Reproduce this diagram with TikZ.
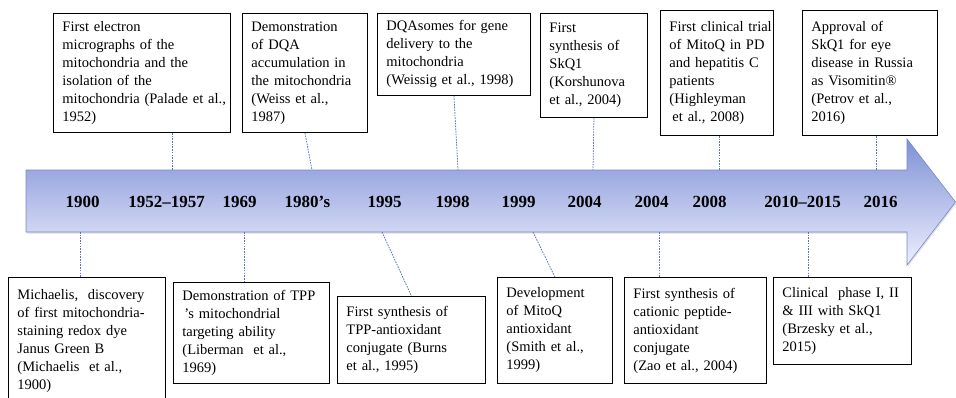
\documentclass[tikz,border=0pt]{standalone}
\usepackage{fontspec}
\setmainfont{Liberation Serif}
\usetikzlibrary{shadows}
\definecolor{arrtop}{RGB}{127,145,214}
\definecolor{arrbot}{RGB}{237,239,253}
\definecolor{arredge}{RGB}{118,136,204}
\definecolor{conn}{RGB}{88,118,190}
\tikzset{
  evbox/.style={draw=black, line width=0.9pt, fill=white, align=left,
    inner xsep=9pt, inner ysep=2pt, anchor=north west,
    font=\fontsize{14.5}{18}\selectfont},
  yearlbl/.style={font=\fontsize{17}{20}\selectfont\bfseries, anchor=base, inner sep=0pt},
  linkline/.style={draw=conn, line width=0.8pt, dash pattern=on 1.6pt off 1.1pt},
  timearrow/.style={draw=arredge, line width=0.6pt, top color=arrtop, bottom color=arrbot,
    drop shadow={opacity=0.25, shadow xshift=1pt, shadow yshift=-1.5pt}},
}
\begin{document}
\begin{tikzpicture}[x=1pt, y=-1pt]
\useasboundingbox (0,0) rectangle (956,397);

% main timeline arrow
\path[timearrow] (26,170) -- (907,170) -- (907,139) -- (955.5,202) -- (907,265) -- (907,232) -- (26,232) -- cycle;

% year labels
\node[yearlbl] (y1)  at (82.5,207)  {1900};
\node[yearlbl] (y2)  at (166.5,207) {1952--1957};
\node[yearlbl] (y3)  at (239.5,207) {1969};
\node[yearlbl] (y4)  at (307.5,207) {1980’s};
\node[yearlbl] (y5)  at (384.5,207) {1995};
\node[yearlbl] (y6)  at (452.5,207) {1998};
\node[yearlbl] (y7)  at (518.5,207) {1999};
\node[yearlbl] (y8)  at (584.5,207) {2004};
\node[yearlbl] (y9)  at (651.5,207) {2004};
\node[yearlbl] (y10) at (709.5,207) {2008};
\node[yearlbl] (y11) at (802.5,207) {2010--2015};
\node[yearlbl] (y12) at (880.5,207) {2016};

% attachment points on the arrow edges
\coordinate (a1) at (172,170);
\coordinate (a2) at (312,170);
\coordinate (a3) at (458,170);
\coordinate (a4) at (593,170);
\coordinate (a5) at (719,170);
\coordinate (a6) at (876,170);
\coordinate (d1) at (80,232);
\coordinate (d2) at (244,232);
\coordinate (d3) at (382,232);
\coordinate (d4) at (533,232);
\coordinate (d5) at (659,232);
\coordinate (d6) at (808,232);

% top event boxes
\node[evbox, text width=159pt, minimum height=119pt] (t1) at (53,13)
  {First electron\\micrographs of the\\mitochondria and the\\isolation of the\\\mbox{mitochondria (Palade et al.,}\\1952)};
\node[evbox, text width=107pt, minimum height=119pt] (t2) at (242,13)
  {Demonstration\\of DQA\\accumulation in\\\mbox{the mitochondria}\\(Weiss et al.,\\1987)};
\node[evbox, text width=135pt, minimum height=82pt] (t3) at (377,13)
  {DQAsomes for gene\\delivery to the\\mitochondria\\\mbox{(Weissig et al., 1998)}};
\node[evbox, text width=89pt, minimum height=104pt] (t4) at (540,13)
  {First\\synthesis of\\SkQ1\\(Korshunova\\\mbox{et al., 2004)}};
\node[evbox, text width=95pt, minimum height=125pt] (t5) at (660,10)
  {\mbox{First clinical trial}\\\mbox{of MitoQ in PD}\\\mbox{and hepatitis C}\\patients\\(Highleyman\\\mbox{\hspace*{3pt}et al., 2008)}};
\node[evbox, text width=117pt, minimum height=125pt] (t6) at (802,10)
  {Approval of\\SkQ1 for eye\\\mbox{disease in Russia}\\as Visomitin®\\(Petrov et al.,\\2016)};

% bottom event boxes
\node[evbox, text width=139pt, minimum height=128pt] (b1) at (8,277)
  {\mbox{Michaelis,\ \ discovery}\\\mbox{of first mitochondria-}\\staining redox dye\\Janus Green B\\(Michaelis\ \ et al.,\\1900)};
\node[evbox, text width=138pt, minimum height=101pt] (b2) at (173,282)
  {\mbox{Demonstration of TPP}\\\hspace*{2pt}’s mitochondrial\\targeting ability\\(Liberman\ \ et al.,\\1969)};
\node[evbox, text width=130pt, minimum height=87pt] (b3) at (337,296)
  {First synthesis of\\TPP-antioxidant\\conjugate (Burns\\et al., 1995)};
\node[evbox, text width=97pt, minimum height=106pt] (b4) at (497,277)
  {Development\\of MitoQ\\antioxidant\\(Smith et al.,\\1999)};
\node[evbox, text width=124pt, minimum height=106pt] (b5) at (624,277)
  {First synthesis of\\cationic peptide-\\antioxidant\\conjugate\\\mbox{(Zao et al., 2004)}};
\node[evbox, text width=120pt, minimum height=87pt] (b6) at (773,277)
  {\mbox{Clinical\ \ phase I, II}\\\& III with SkQ1\\(Brzesky et al.,\\2015)};

% dotted connectors
\draw[linkline] (t1.south -| a1) -- (a1);
\draw[linkline] (t2.south) -- (a2);
\draw[linkline] (t3.south) -- (a3);
\draw[linkline] (t4.south) -- (a4);
\draw[linkline] (t5.south -| a5) -- (a5);
\draw[linkline] (t6.south -| a6) -- (a6);
\draw[linkline] (d1) -- (b1.north -| d1);
\draw[linkline] (d2) -- (b2.north -| d2);
\draw[linkline] (d3) -- (b3.north);
\draw[linkline] (d4) -- (b4.north);
\draw[linkline] (d5) -- (b5.north -| d5);
\draw[linkline] (d6) -- (b6.north -| d6);
\end{tikzpicture}
\end{document}
